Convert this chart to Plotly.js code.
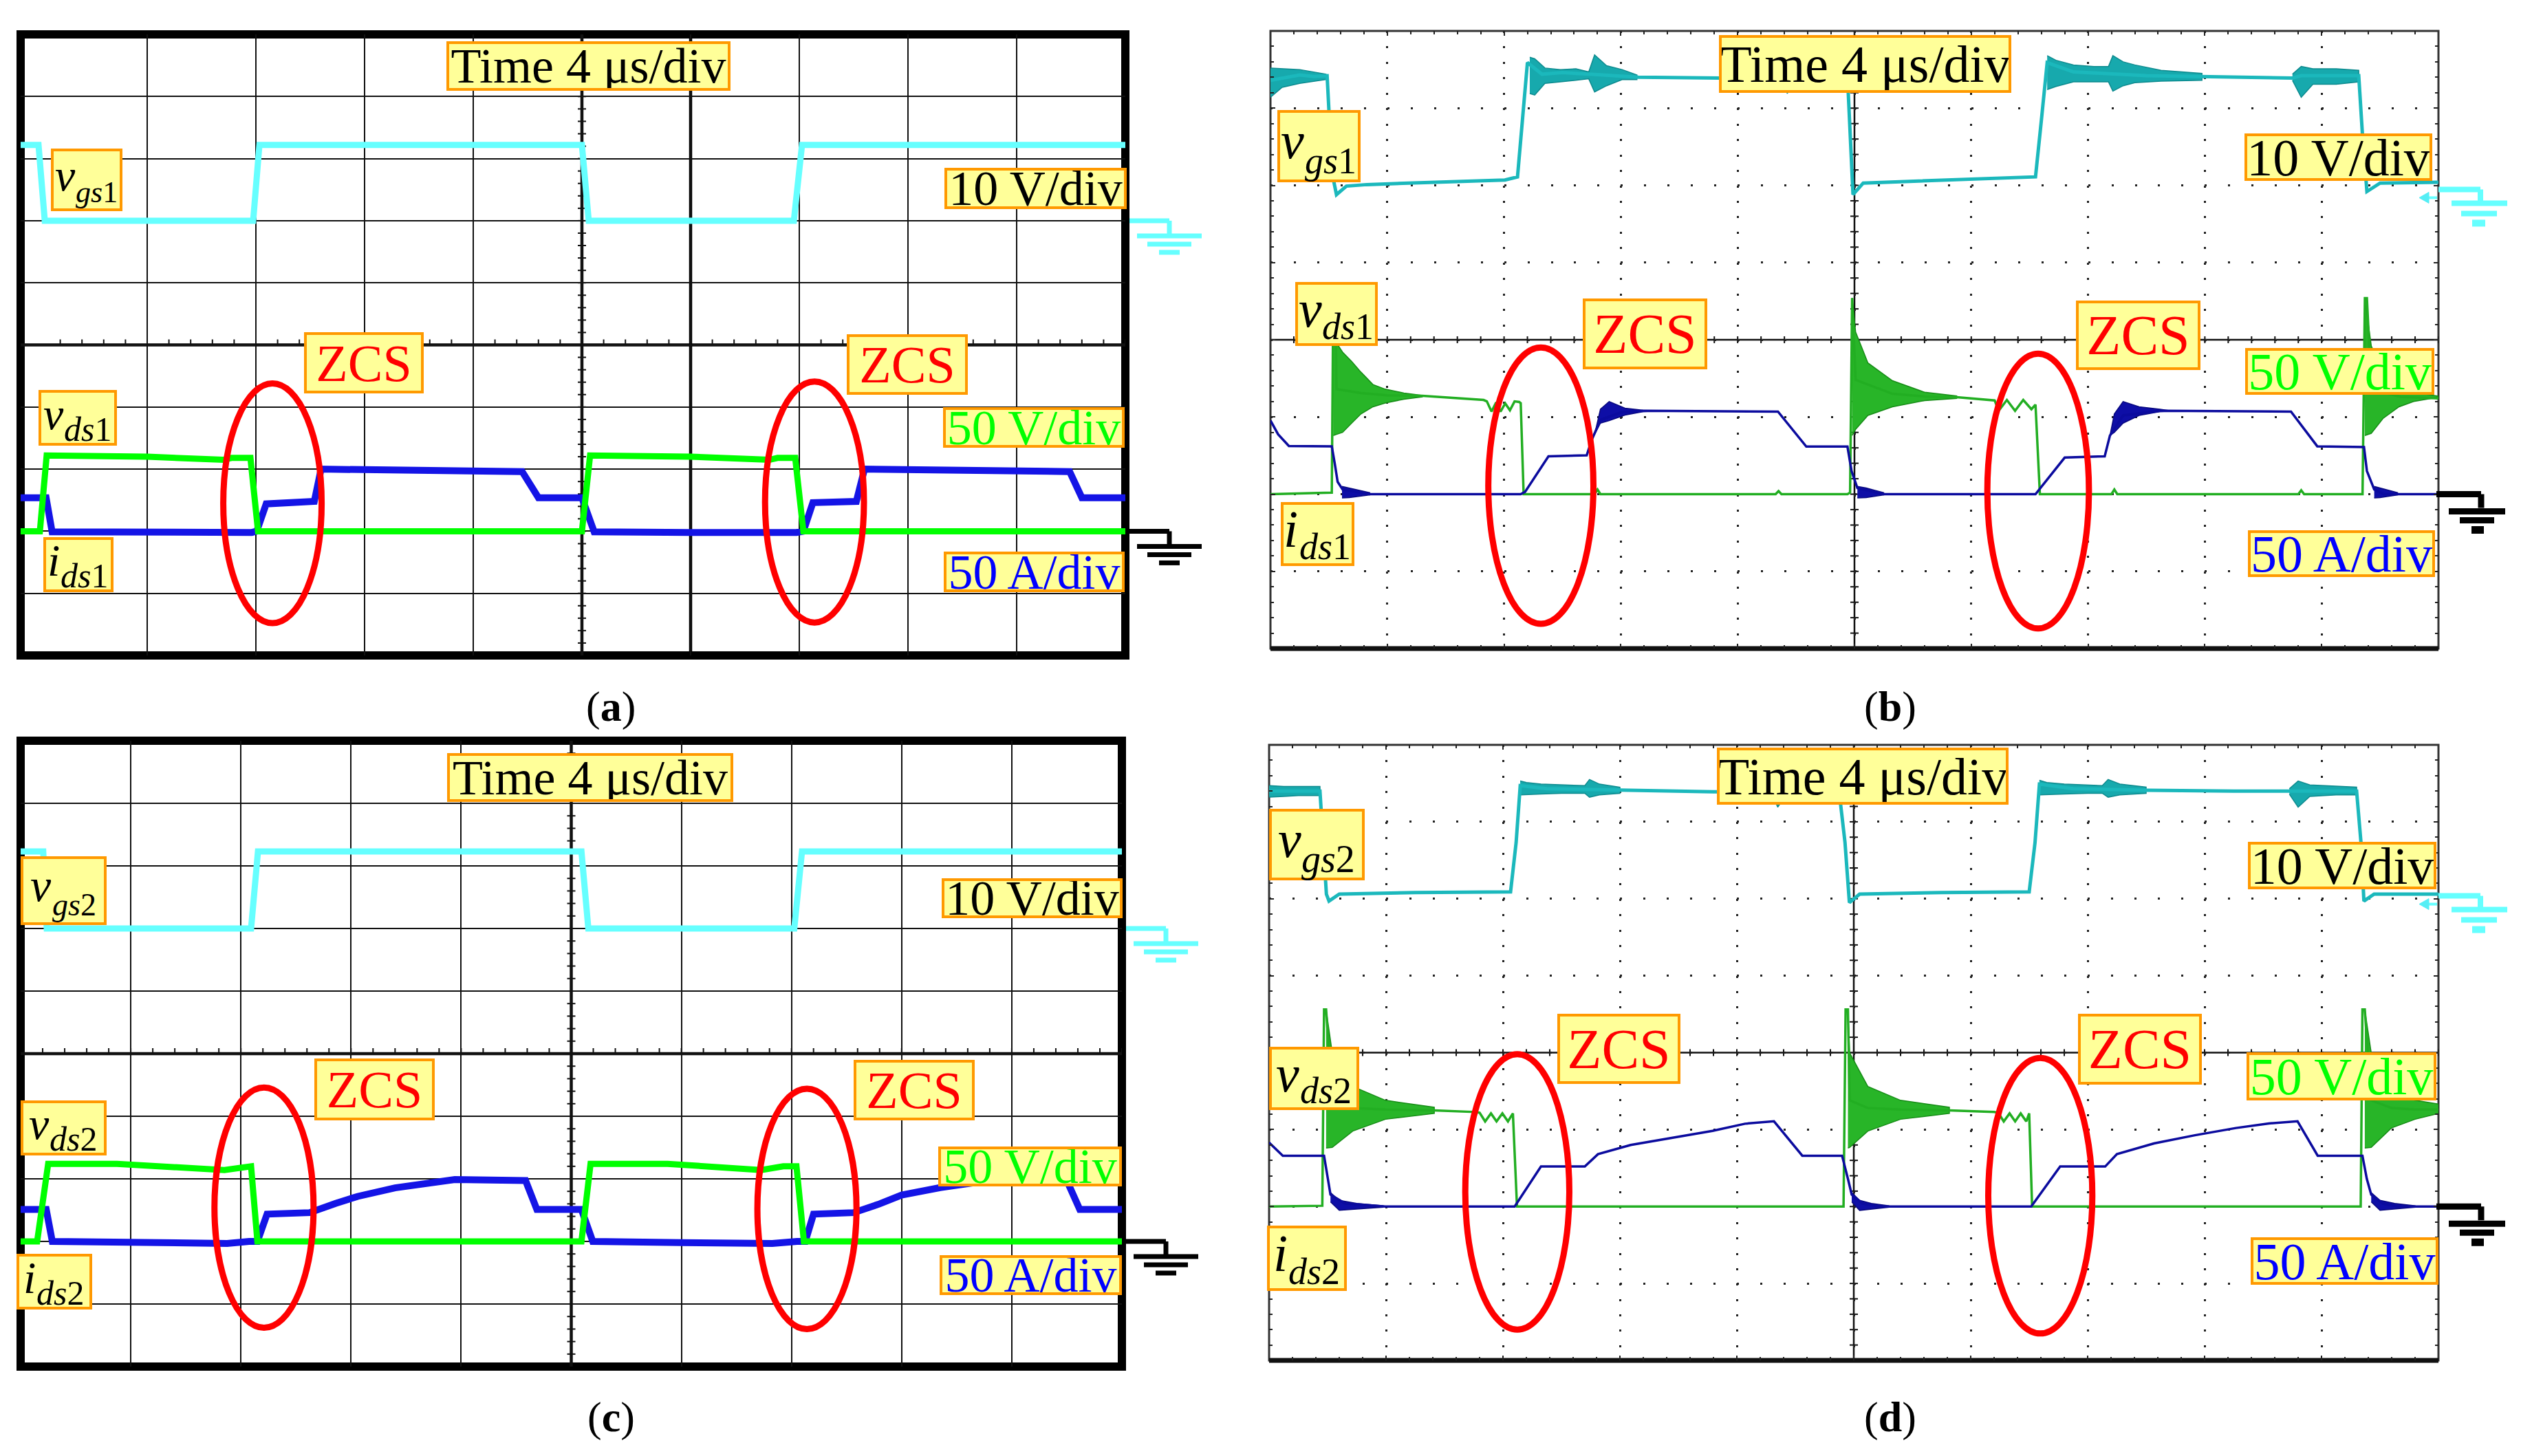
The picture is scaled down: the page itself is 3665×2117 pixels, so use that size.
<!DOCTYPE html>
<html><head><meta charset="utf-8">
<script src="https://cdn.plot.ly/plotly-3.0.1.min.js"></script>
<style>html,body{margin:0;padding:0;background:#fff}</style>
</head><body><div id="chart" style="width:3665px;height:2117px"></div>
<script>
// ================= DATA (time in µs, voltages in V, currents in A) =================
// ---- Panel (a) ----
const a_t_vgs = [-0.8, 0, 0.23, 7.9, 8.13, 20.0, 20.25, 27.8, 28.1, 40.2];
const a_vgs   = [12.2, 12.2, 0, 0, 12.2, 12.2, 0, 0, 12.2, 12.2];
const a_t_vds = [-0.8, 0.05, 0.3, 4.0, 6.8, 7.1, 7.8, 8.08, 20.0, 20.3, 24.0, 26.9, 27.2, 27.85, 28.15, 40.2];
const a_vds   = [0, 0, 61, 60, 57.5, 59, 59, 0, 0, 61, 60, 57.5, 59, 59, 0, 0];
const a_t_ids = [-0.8, 0.28, 0.5, 4, 7, 7.85, 8.03, 8.38, 10.15, 10.4, 17.8, 18.4, 20.0, 20.45, 24, 27, 27.9, 28.15, 28.5, 30.1, 30.4, 37.95, 38.4, 40.2];
const a_ids   = [27, 27, -0.5, -1, -1.7, -1, 0, 22, 24, 50, 48, 27, 27, -0.5, -1, -1.7, -1, 0, 23, 24, 50, 48, 27, 27];

// ---- Panel (c) ----
const c_t_vgs = [0, 0.82, 0.95, 8.37, 8.62, 20.37, 20.62, 28.1, 28.38, 40.3];
const c_vgs   = [12.3, 12.3, 0, 0, 12.3, 12.3, 0, 0, 12.3, 12.3];
const c_t_vds = [0, 0.6, 1.0, 3.5, 7.4, 8.1, 8.37, 8.6, 20.37, 20.7, 23.5, 26.9, 27.7, 28.18, 28.45, 40.3];
const c_vds   = [0, 0, 62, 62, 57, 60, 60, 0, 0, 62, 62, 57, 60, 60, 0, 0];
const c_t_ids = [0, 0.93, 1.15, 4, 7.5, 8.3, 8.6, 8.95, 10.5, 11.44, 12.25, 13.6, 14.96, 15.77, 18.34, 18.75, 20.37, 20.78, 24, 27.3, 28.2, 28.5, 28.8, 30.26, 31.2, 32.0, 33.4, 34.5, 35.3, 38.0, 38.47, 40.3];
const c_ids   = [25.5, 25.5, 0, -1, -1.6, 0, 0, 21.8, 23, 30.4, 36, 42.8, 47.4, 49.4, 48.6, 25.5, 25.5, 0, -1, -1.6, 0, 0, 21.8, 23, 30, 37, 43, 47, 49, 48.6, 25.5, 25.5];

// ---- Panel (b) (measured) ----
const b_t_vgs = [0, 0.5, 1.0, 1.5, 1.94, 2.02, 2.12, 2.26, 2.6, 3.3, 5.5, 8.03, 8.46, 8.6, 8.8, 9.3, 10.0, 10.9, 12.6, 15.4, 17.7, 19.76, 19.85, 19.95, 20.3, 23.0, 26.2, 26.4, 26.6, 27.5, 28.85, 30.0, 35.0, 35.3, 35.7, 37.27, 37.4, 37.55, 38.0, 40];
const b_vgs   = [15.2, 15.6, 15.9, 15.7, 15.8, 10, 3, 0.4, 1.5, 1.7, 2.0, 2.3, 2.7, 9, 17.5, 16.0, 16.2, 16.0, 15.6, 15.5, 15.5, 15.8, 9, 0.4, 1.9, 2.3, 2.7, 10, 17.5, 16.3, 16.0, 15.8, 15.5, 15.8, 15.8, 15.8, 8, 0.8, 1.9, 2.0];
const b_vgsRing_t  = [[0, 0.4, 1.0, 1.9], [8.88, 9.05, 9.4, 9.93, 10.46, 10.9, 11.1, 11.51, 12.04, 12.55], [17.5, 17.7, 18.0], [26.6, 26.9, 27.5, 28.2, 28.7, 28.85, 29.2, 29.6, 30.5, 31.9], [35.0, 35.3, 35.7, 36.5, 37.27]];
const b_vgsRing_hi = [[16.8, 16.7, 16.6, 16.0], [18.2, 18.0, 16.8, 16.6, 16.7, 16.3, 18.5, 17.1, 16.6, 15.9], [16, 17, 16], [18.4, 17.8, 17.2, 17.0, 17.0, 18.4, 17.6, 17.2, 16.5, 16.1], [16.0, 17.0, 16.7, 16.7, 16.5]];
const b_vgsRing_lo = [[13.0, 14.3, 14.8, 15.3], [13.5, 13.3, 14.8, 15.0, 15.2, 15.4, 13.7, 14.5, 15.3, 15.3], [15.3, 13.5, 15.3], [14.0, 14.4, 15.0, 15.0, 15.0, 13.8, 14.5, 14.9, 15.1, 15.2], [15.2, 13.0, 14.7, 14.7, 15.0]];
const b_t_vds = [0, 2.1, 2.15, 2.22, 2.26, 3.1, 4.0, 5.2, 6.25, 7.3, 7.41, 7.57, 7.73, 7.88, 8.04, 8.2, 8.36, 8.52, 8.57, 8.67, 11.1, 11.2, 11.3, 17.3, 17.4, 17.5, 19.76, 19.85, 19.92, 20.04, 21.3, 22.4, 23.5, 24.8, 24.94, 25.22, 25.5, 25.78, 26.06, 26.2, 26.35, 28.8, 28.9, 29.0, 35.2, 35.3, 35.4, 37.4, 37.48, 37.55, 37.7, 38.7, 40];
const b_vds   = [0, 1, 127, 127, 68, 65.5, 64, 63.7, 62.4, 61, 60.1, 53.5, 59.4, 53.5, 58.8, 54.3, 60.1, 59.7, 59, 0, 0, 3, 0, 0, 2, 0, 0, 1, 127, 74, 65, 63.3, 62.8, 60.7, 54, 61, 54, 61, 55, 58, 0, 0, 3, 0, 0, 2.5, 0, 0, 127, 127, 68, 63, 62];
const b_vdsRing_t  = [[2.15, 2.26, 2.47, 2.78, 3.1, 3.51, 3.93, 4.57, 5.2], [19.92, 20.04, 20.46, 21.3, 22.4, 23.5], [37.48, 37.7, 38.1, 38.65, 39.15, 39.9, 40]];
const b_vdsRing_hi = [[127, 98, 92, 86, 79, 71, 68, 65.5, 64], [127, 105, 85, 73.5, 66, 63.6], [127, 96, 79, 70, 66, 63.6, 63.5]];
const b_vdsRing_lo = [[38, 38.7, 40, 46, 52, 56.6, 59, 61.5, 63], [38, 42, 51, 56.6, 60.6, 62], [38, 39.4, 49, 56.6, 60, 62.5, 63]];
const b_t_ids = [0, 0.26, 0.63, 2.1, 2.2, 2.3, 2.47, 3.4, 8.57, 8.72, 9.52, 10.83, 11.0, 11.3, 12.0, 12.8, 17.38, 18.35, 19.76, 19.9, 20.1, 21.0, 26.2, 27.2, 28.57, 28.75, 29.2, 30.5, 34.95, 35.85, 37.45, 37.55, 37.8, 38.14, 40];
const b_ids   = [47.7, 38.8, 31.2, 31, 20, 8, 3, 0, 0, 1.5, 24.5, 25.2, 35, 48, 53, 54, 53.5, 30.8, 30.8, 15, 4, 0, 0, 23.7, 24.5, 38, 51, 54, 53.5, 31, 30.5, 15, 3, 0, 0];
const b_idsRing_t  = [[2.45, 2.7, 3.0, 3.4], [11.1, 11.3, 11.6, 12.14, 12.77, 13.2], [20.1, 20.4, 20.7, 21.0], [28.75, 28.9, 29.2, 29.75, 30.46, 30.9], [37.8, 38.0, 38.3, 38.6]];
const b_idsRing_hi = [[5, 4, 2.5, 1], [38.7, 55, 60, 55.7, 54.3, 54], [5, 4, 2.5, 1], [38, 52, 60, 56.6, 55, 54], [5, 4, 2.5, 1]];
const b_idsRing_lo = [[-2.5, -2.2, -1.5, -0.5], [38.7, 46, 47.6, 51.2, 53.5, 53.8], [-2.5, -2.2, -1.5, -0.5], [38, 40, 46, 51, 53.5, 53.8], [-2.5, -2.2, -1.5, -0.5]];

// ---- Panel (d) (measured) ----
const d_t_vgs = [0, 1.74, 1.85, 1.96, 2.05, 2.4, 5.0, 8.17, 8.26, 8.45, 8.59, 9.5, 12, 15.2, 17.4, 19.5, 19.7, 19.85, 20.2, 23, 26.0, 26.2, 26.35, 27.5, 30, 33, 37.2, 37.35, 37.45, 37.8, 40];
const d_vgs   = [14.7, 14.7, 8, 1.3, 0.4, 1.3, 1.5, 1.6, 1.6, 8, 15.4, 15.0, 14.8, 14.6, 14.6, 14.6, 8, 0.2, 1.3, 1.5, 1.6, 8, 15.6, 15.0, 14.8, 14.7, 14.7, 8, 0.4, 1.3, 1.3];
const d_vgsRing_t  = [[0, 0.5, 1.0, 1.74], [8.59, 8.8, 9.3, 10.0, 10.8, 10.96, 11.3, 12.0], [17.2, 17.4, 17.7], [26.35, 26.6, 27.2, 28.0, 28.5, 28.7, 29.1, 30.0], [34.9, 35.2, 35.6, 36.5, 37.2]];
const d_vgsRing_hi = [[15.4, 15.3, 15.3, 15.3], [16, 15.8, 15.6, 15.5, 15.4, 16.2, 15.6, 15.2], [15, 15.8, 15], [16.1, 15.8, 15.6, 15.5, 15.4, 16.2, 15.6, 15.2], [15.0, 16.0, 15.5, 15.3, 15.2]];
const d_vgsRing_lo = [[13.9, 14.0, 14.1, 14.1], [14.2, 14.2, 14.3, 14.4, 14.4, 13.9, 14.2, 14.4], [14.3, 12.6, 14.3], [14.2, 14.2, 14.3, 14.4, 14.4, 13.9, 14.2, 14.4], [14.3, 12.6, 14.0, 14.2, 14.2]];
const d_t_vds = [0, 1.82, 1.88, 1.95, 2.16, 2.86, 3.98, 5.65, 7.06, 7.2, 7.39, 7.59, 7.78, 7.98, 8.17, 8.34, 8.48, 19.65, 19.72, 19.8, 19.86, 20.48, 21.6, 23.27, 24.8, 24.94, 25.13, 25.33, 25.52, 25.71, 25.9, 26.0, 26.1, 37.34, 37.4, 37.48, 37.7, 38.4, 39.2, 40];
const d_vds   = [0, 0.5, 128, 128, 69, 64, 63, 62.5, 61.4, 61, 55.3, 60.5, 55.3, 60.5, 55.3, 60.5, 0, 0, 128, 128, 69, 64, 63, 62.5, 61.4, 61, 55.3, 60.5, 55.3, 60.5, 55.3, 60.5, 0, 0, 128, 128, 69, 64, 63, 63];
const d_vdsRing_t  = [[1.95, 2.16, 2.86, 3.98, 5.65], [19.8, 19.86, 20.48, 21.6, 23.27], [37.48, 37.7, 38.39, 39.2, 40]];
const d_vdsRing_hi = [[128, 99.8, 78, 69, 64.5], [128, 99.8, 78, 69, 64.5], [128, 99.8, 74, 69, 66.6]];
const d_vdsRing_lo = [[38, 38.4, 49, 56.7, 60.5], [38, 38.4, 49, 56.7, 60.5], [38, 38.4, 51, 56.7, 60.5]];
const d_t_ids = [0, 0.47, 1.88, 2.0, 2.1, 2.6, 3.98, 8.4, 9.3, 10.8, 11.25, 12.37, 13.76, 15.17, 16.28, 17.27, 18.24, 19.6, 19.8, 19.93, 20.3, 20.9, 26.07, 27.06, 28.6, 29.0, 30.27, 31.67, 33.07, 34.2, 35.18, 35.87, 37.4, 37.55, 37.7, 38.1, 38.6, 40];
const d_ids   = [41.5, 33, 33, 20, 7.7, 2, 0, 0, 26, 26, 34, 40, 44.7, 49.2, 53.8, 55.4, 33, 33, 18, 7.7, 2, 0, 0, 26, 26, 34, 41, 46.3, 51, 54, 55.4, 33, 33, 18, 7.7, 2, 0, 0];
const d_idsRing_t  = [[2.1, 2.4, 3.0, 3.9], [19.93, 20.2, 20.6, 21.2], [37.7, 38.0, 38.5, 39.2]];
const d_idsRing_hi = [[9, 4, 2, 0.5], [9, 4, 2, 0.5], [9, 4, 2, 0.5]];
const d_idsRing_lo = [[3, -2.5, -1.5, -0.5], [3, -2.5, -1.5, -0.5], [3, -2.5, -1.5, -0.5]];

// ---- Text ----
const TXT_TIME = 'Time 4 μs/div';
const TXT_VGS_DIV = '10 V/div', TXT_VDS_DIV = '50 V/div', TXT_IDS_DIV = '50 A/div', TXT_ZCS = 'ZCS';
const captions = ['(<b>a</b>)', '(<b>b</b>)', '(<b>c</b>)', '(<b>d</b>)'];

// ================= LAYOUT / STYLE =================
const W = 3665, H = 2117;
const SERIF = 'Liberation Serif, Times New Roman, serif';
const P = [
  {k:'a', left:30,   right:1636, top:50,   bottom:953,  xr:[-0.658,40], n:5, gV:2,    gD:-3, scope:false, cap:[888,1027]},
  {k:'b', left:1847, right:3545, top:45,   bottom:943,  xr:[0,40],      n:4, gV:1.84, gD:-2, scope:true,  cap:[2748,1027]},
  {k:'c', left:30,   right:1631, top:1077, bottom:1987, xr:[0,40],      n:5, gV:2,    gD:-3, scope:false, cap:[888,2060]},
  {k:'d', left:1845, right:3545, top:1083, bottom:1978, xr:[0,40],      n:4, gV:1.93, gD:-2, scope:true,  cap:[2748,2060]}
];
const ellipses = {
  a:[[6.8,10.42,-4.48,-0.62],[26.74,30.38,-4.47,-0.59]],
  b:[[7.46,11.06,-3.68,-0.1],[24.55,28.03,-3.74,-0.18]],
  c:[[7.04,10.64,-4.38,-0.54],[26.76,30.36,-4.4,-0.56]],
  d:[[6.71,10.27,-3.6,-0.02],[24.6,28.16,-3.65,-0.07]]
};
// plain label boxes in pixels: [x0,x1,y0,y1,text,color,size]
const labels = [
  [649,1062,60,132,TXT_TIME,'#000',72],[1373,1638,244,304,TXT_VGS_DIV,'#000',72],
  [442,616,483,572,TXT_ZCS,'#FF0000',76],[1231,1407,486,574,TXT_ZCS,'#FF0000',76],
  [1371,1635,592,651,TXT_VDS_DIV,'#00FF00',72],[1372,1635,802,861,TXT_IDS_DIV,'#0000FF',72],
  [2499,2924,51,135,TXT_TIME,'#000',76],[3263,3536,194,263,TXT_VGS_DIV,'#000',76],
  [2301,2482,434,537,TXT_ZCS,'#FF0000',82],[3018,3199,437,538,TXT_ZCS,'#FF0000',82],
  [3264,3539,506,574,TXT_VDS_DIV,'#00FF00',76],[3268,3540,771,839,TXT_IDS_DIV,'#0000FF',76],
  [650,1066,1095,1166,TXT_TIME,'#000',72],[1369,1632,1277,1335,TXT_VGS_DIV,'#000',72],
  [457,632,1539,1629,TXT_ZCS,'#FF0000',76],[1241,1417,1541,1629,TXT_ZCS,'#FF0000',76],
  [1364,1631,1667,1725,TXT_VDS_DIV,'#00FF00',72],[1366,1631,1825,1883,TXT_IDS_DIV,'#0000FF',72],
  [2496,2920,1087,1170,TXT_TIME,'#000',76],[3268,3542,1224,1293,TXT_VGS_DIV,'#000',76],
  [2264,2443,1474,1576,TXT_ZCS,'#FF0000',82],[3021,3201,1474,1577,TXT_ZCS,'#FF0000',82],
  [3266,3542,1530,1600,TXT_VDS_DIV,'#00FF00',76],[3272,3545,1799,1868,TXT_IDS_DIV,'#0000FF',76]
];
// signal-name boxes: [x0,x1,y0,y1, letter, italic subscript, digit, letter size, subscript size]
const sigLabels = [
  [74,178,216,307,'v','gs','1',66,44],[56,170,567,648,'v','ds','1',66,50],[63,165,781,861,'i','ds','1',66,50],
  [1857,1978,160,265,'v','gs','1',76,54],[1883,2003,410,503,'v','ds','1',76,54],[1862,1969,730,823,'i','ds','1',76,54],
  [30,155,1245,1345,'v','gs','2',68,46],[30,155,1600,1680,'v','ds','2',66,50],[24,134,1823,1904,'i','ds','2',66,50],
  [1845,1984,1176,1280,'v','gs','2',76,56],[1845,1976,1522,1614,'v','ds','2',76,54],[1842,1958,1782,1877,'i','ds','2',76,54]
];
const glyphW = {v:0.444, i:0.278, g:0.5, s:0.389, d:0.5, '1':0.5, '2':0.5};

const SIM = {vgs:'#66FFFF', vds:'#00FF00', ids:'#1414E6'};
const SCO = {vgs:'#1BB8BC', vgsFill:'#17A9AD', vgsEdge:'#0D8A8E', vds:'#22AE22', vdsFill:'#28B528', vdsEdge:'#168C16', ids:'#0B0B9E', idsFill:'#0E0EA6', idsEdge:'#08087E'};

const idn = (pre, n) => n === 1 ? pre : pre + n;
const axn = (pre, n) => n === 1 ? pre + 'axis' : pre + 'axis' + n;

function lineTrace(t, v, xa, ya, color, width){
  return {type:'scatter', mode:'lines', x:t, y:v, xaxis:xa, yaxis:ya, line:{color, width}, hoverinfo:'skip', showlegend:false};
}
function bandTraces(ts, his, los, xa, ya, fill, edge){
  return ts.map((t, k) => ({type:'scatter', mode:'lines', x:t.concat(t.slice().reverse()),
    y:his[k].concat(los[k].slice().reverse()), fill:'toself', fillcolor:fill,
    line:{color:edge, width:1.5}, xaxis:xa, yaxis:ya, hoverinfo:'skip', showlegend:false}));
}

const layout = {width:W, height:H, margin:{l:0,r:0,t:0,b:0}, paper_bgcolor:'#fff', plot_bgcolor:'rgba(0,0,0,0)',
  showlegend:false, shapes:[], annotations:[]};
const traces = [];
const tickX = []; for (let t = 4; t <= 36; t += 4) tickX.push(t);

P.forEach((p, i) => {
  const xid = idn('x', i+1), g = idn('y', 3*i+1), v = idn('y', 3*i+2), d = idn('y', 3*i+3);
  const pxDivX = (p.right - p.left) / (p.xr[1] - p.xr[0]) * 4;
  const pxDivY = (p.bottom - p.top) / (2 * p.n);
  const xa = {domain:[p.left/W, p.right/W], range:p.xr, anchor:g, tickmode:'array', tickvals:tickX,
    showticklabels:false, zeroline:false, showline:false, showgrid:true,
    gridcolor:p.scope ? '#222' : '#111', gridwidth:p.scope ? 3 : 2, fixedrange:true};
  const ya = {domain:[1 - p.bottom/H, 1 - p.top/H], range:[-p.n, p.n], anchor:xid, tickmode:'linear', tick0:0, dtick:1,
    showticklabels:false, zeroline:false, showline:false, showgrid:true,
    gridcolor:p.scope ? '#222' : '#111', gridwidth:p.scope ? 3 : 2, fixedrange:true};
  if (p.scope) {
    xa.griddash = '3px,' + (pxDivY/5 - 3).toFixed(2) + 'px';
    ya.griddash = '3px,' + (pxDivX/5 - 3).toFixed(2) + 'px';
    [xa, ya].forEach((ax, j) => Object.assign(ax, {ticks:'inside', ticklen:7, tickwidth:2, tickcolor:'#222', mirror:'ticks',
      minor:{tickmode:'linear', tick0:0, dtick:j === 0 ? 0.8 : 0.2, ticks:'inside', ticklen:5, tickwidth:2, tickcolor:'#222', showgrid:false}}));
  } else { xa.ticks = ''; ya.ticks = ''; }
  layout[axn('x', i+1)] = xa;
  layout[axn('y', 3*i+1)] = ya;
  layout[axn('y', 3*i+2)] = {overlaying:g, anchor:xid, range:[(-p.n - p.gV)*10, (p.n - p.gV)*10], visible:false, fixedrange:true};
  layout[axn('y', 3*i+3)] = {overlaying:g, anchor:xid, range:[(-p.n - p.gD)*50, (p.n - p.gD)*50], visible:false, fixedrange:true};
  traces.push({type:'scatter', mode:'lines', x:[], y:[], xaxis:xid, yaxis:g, hoverinfo:'skip', showlegend:false});

  const S = layout.shapes;
  const LAY = 'below';
  // frame
  S.push({type:'rect', xref:'paper', yref:'paper', x0:p.left/W, x1:p.right/W, y0:1 - p.bottom/H, y1:1 - p.top/H,
    line:{color:p.scope ? '#333' : '#000', width:p.scope ? 3 : 12}, layer:LAY});
  if (p.scope) S.push({type:'line', xref:'paper', yref:'paper', x0:p.left/W, x1:p.right/W, y0:1 - p.bottom/H, y1:1 - p.bottom/H, line:{color:'#111', width:7}, layer:LAY});
  // center lines
  const cw = p.scope ? 2.5 : 4.5;
  const yTop = 1 - p.top/H, yBot = 1 - p.bottom/H;
  S.push({type:'line', xref:xid, yref:'paper', x0:20, x1:20, y0:yBot, y1:yTop, line:{color:'#111', width:cw}, layer:LAY});
  S.push({type:'line', xref:'paper', yref:g, x0:p.left/W, x1:p.right/W, y0:0, y1:0, line:{color:'#111', width:cw}, layer:LAY});
  if (p.k === 'a') S.push({type:'line', xref:xid, yref:'paper', x0:24, x1:24, y0:yBot, y1:yTop, line:{color:'#000', width:4.5}, layer:LAY});
  // center-line tick marks every 0.2 div
  for (let t = 0.8; t < 40; t += 0.8) {
    S.push({type:'line', xref:xid, yref:g, x0:t, x1:t, ysizemode:'pixel', yanchor:0,
      y0:p.scope ? -5 : 0, y1:p.scope ? 5 : 8, line:{color:'#111', width:2}, layer:LAY});
  }
  for (let k = -5*p.n + 1; k < 5*p.n; k++) {
    if (k === 0) continue;
    S.push({type:'line', xref:xid, yref:g, xsizemode:'pixel', xanchor:20, x0:-6, x1:6, y0:k*0.2, y1:k*0.2,
      line:{color:'#111', width:2}, layer:LAY});
  }
  // ZCS ellipses
  ellipses[p.k].forEach(e => S.push({type:'circle', xref:xid, yref:g, x0:e[0], x1:e[1], y0:e[2], y1:e[3],
    line:{color:'#FF0000', width:9}, layer:'above'}));
  // ground markers (anchored at 0 V / 0 A of each channel axis)
  const R = p.right;
  const seg = (yref, color, list) => list.forEach(s => S.push({type:'line', xref:'paper', yref, ysizemode:'pixel', yanchor:0,
    x0:(R + s[0])/W, x1:(R + s[1])/W, y0:s[2], y1:s[3], line:{color, width:s[4]}, layer:'above'}));
  if (!p.scope) {
    seg(v, '#66FFFF', [[6,64,0,0,7],[64,64,0,-22,7],[17,111,-22,-22,7],[32,96,-34,-34,7],[49,79,-46,-46,7]]);
    seg(d, '#000', [[6,64,0,0,7],[64,64,0,-22,7],[17,111,-22,-22,7],[32,96,-34,-34,7],[49,79,-46,-46,7]]);
  } else {
    seg(v, '#66FFFF', [[0,61,12,12,8],[61,61,12,-8,8],[19,100,-8,-8,8],[33,85,-23,-23,8],[49,68,-37,-37,10],[-22,-2,0,0,4]]);
    S.push({type:'path', xref:'paper', yref:v, xsizemode:'pixel', ysizemode:'pixel', xanchor:R/W, yanchor:0,
      path:'M-28,0 L-14,8 L-14,-8 Z', fillcolor:'#55EEF5', line:{color:'#55EEF5', width:1}, layer:'above'});
    seg(d, '#000', [[-3,62,0,0,9],[62,62,0,-20,9],[15,97,-25,-25,9],[31,81,-38,-38,9],[48,66,-52,-52,11]]);
  }
  // caption
  layout.annotations.push({xref:'paper', yref:'paper', x:p.cap[0]/W, y:1 - p.cap[1]/H, xanchor:'center', yanchor:'middle',
    text:captions[i], showarrow:false, font:{family:SERIF, size:62, color:'#000'}});
});

// ---- traces ----
const ax = i => ({x:idn('x', i+1), v:idn('y', 3*i+2), d:idn('y', 3*i+3)});
let A = ax(0);
traces.push(lineTrace(a_t_vgs, a_vgs, A.x, A.v, SIM.vgs, 9));
traces.push(lineTrace(a_t_ids, a_ids, A.x, A.d, SIM.ids, 10));
traces.push(lineTrace(a_t_vds, a_vds, A.x, A.d, SIM.vds, 9));
A = ax(2);
traces.push(lineTrace(c_t_vgs, c_vgs, A.x, A.v, SIM.vgs, 9));
traces.push(lineTrace(c_t_ids, c_ids, A.x, A.d, SIM.ids, 10));
traces.push(lineTrace(c_t_vds, c_vds, A.x, A.d, SIM.vds, 9));
A = ax(1);
traces.push(...bandTraces(b_vgsRing_t, b_vgsRing_hi, b_vgsRing_lo, A.x, A.v, SCO.vgsFill, SCO.vgsEdge));
traces.push(lineTrace(b_t_vgs, b_vgs, A.x, A.v, SCO.vgs, 5));
traces.push(...bandTraces(b_vdsRing_t, b_vdsRing_hi, b_vdsRing_lo, A.x, A.d, SCO.vdsFill, SCO.vdsEdge));
traces.push(lineTrace(b_t_vds, b_vds, A.x, A.d, SCO.vds, 3.5));
traces.push(...bandTraces(b_idsRing_t, b_idsRing_hi, b_idsRing_lo, A.x, A.d, SCO.idsFill, SCO.idsEdge));
traces.push(lineTrace(b_t_ids, b_ids, A.x, A.d, SCO.ids, 3.5));
A = ax(3);
traces.push(...bandTraces(d_vgsRing_t, d_vgsRing_hi, d_vgsRing_lo, A.x, A.v, SCO.vgsFill, SCO.vgsEdge));
traces.push(lineTrace(d_t_vgs, d_vgs, A.x, A.v, SCO.vgs, 5));
traces.push(...bandTraces(d_vdsRing_t, d_vdsRing_hi, d_vdsRing_lo, A.x, A.d, SCO.vdsFill, SCO.vdsEdge));
traces.push(lineTrace(d_t_vds, d_vds, A.x, A.d, SCO.vds, 3.5));
traces.push(...bandTraces(d_idsRing_t, d_idsRing_hi, d_idsRing_lo, A.x, A.d, SCO.idsFill, SCO.idsEdge));
traces.push(lineTrace(d_t_ids, d_ids, A.x, A.d, SCO.ids, 3.5));

// ---- label boxes ----
const BOX_FILL = '#FFFF99', BOX_EDGE = '#FF9900';
labels.forEach(L => {
  const [x0, x1, y0, y1, text, color, size] = L;
  layout.annotations.push({xref:'paper', yref:'paper', x:(x0 + x1)/2/W, y:1 - (y0 + y1)/2/H, xanchor:'center', yanchor:'middle',
    text, showarrow:false, font:{family:SERIF, size, color}, bgcolor:BOX_FILL, bordercolor:BOX_EDGE, borderwidth:4,
    borderpad:0, width:x1 - x0 - 8, height:y1 - y0 - 8, align:'center', valign:'middle'});
});
// signal names: box + italic letter + lowered subscript
sigLabels.forEach(L => {
  const [x0, x1, y0, y1, letter, subI, digit, m, s] = L;
  const w = x1 - x0, h = y1 - y0;
  layout.shapes.push({type:'rect', xref:'paper', yref:'paper', x0:(x0 + 2)/W, x1:(x1 - 2)/W, y0:1 - (y1 - 2)/H, y1:1 - (y0 + 2)/H,
    fillcolor:BOX_FILL, line:{color:BOX_EDGE, width:4}, layer:'above'});
  const mw = glyphW[letter] * m;
  const sw = (subI.split('').reduce((acc, c) => acc + glyphW[c], 0) + glyphW[digit]) * s;
  const start = x0 + (w - mw - sw) / 2 - 2;
  layout.annotations.push({xref:'paper', yref:'paper', x:start/W, y:1 - (y0 + 0.42*h)/H, xanchor:'left', yanchor:'middle',
    text:'<i>' + letter + '</i>', showarrow:false, borderpad:0, font:{family:SERIF, size:m, color:'#000'}});
  layout.annotations.push({xref:'paper', yref:'paper', x:(start + mw + 1)/W, y:1 - (y0 + 0.70*h)/H, xanchor:'left', yanchor:'middle',
    text:'<i>' + subI + '</i>' + digit, showarrow:false, borderpad:0, font:{family:SERIF, size:s, color:'#000'}});
});

Plotly.newPlot('chart', traces, layout, {staticPlot:true, displayModeBar:false});
</script></body></html>
